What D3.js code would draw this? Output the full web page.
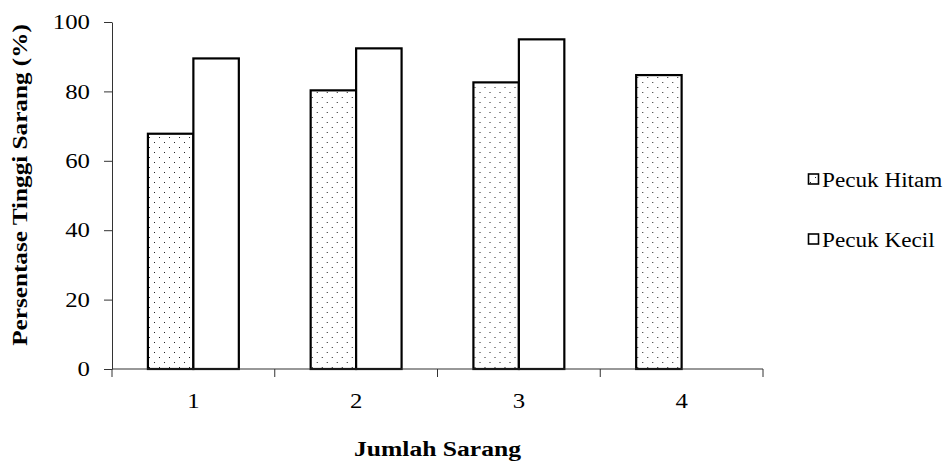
<!DOCTYPE html>
<html>
<head>
<meta charset="utf-8">
<script src="https://cdn.jsdelivr.net/npm/d3@7"></script>
<style>
  html, body { margin: 0; padding: 0; background: #fff; }
  svg { display: block; }
</style>
</head>
<body>
<svg id="chart" width="946" height="462"></svg>
<script>
// Nest-height percentages per number of nests, for two cormorant species
const categories = ["1", "2", "3", "4"];
const seriesNames = ["Pecuk Hitam", "Pecuk Kecil"];
const pecukHitam = [67.8, 80.3, 82.6, 84.7];
const pecukKecil = [89.5, 92.4, 95.0, null];
const yTicks = [0, 20, 40, 60, 80, 100];

const SERIF = "Liberation Serif, DejaVu Serif, serif";
const svg = d3.select("#chart");
const margin = { left: 112, right: 183, top: 22, bottom: 93 };
const W = 946, H = 462;

// Text is set a little wide along its baseline
function wideText(parent, x, y, str, opts) {
  const o = Object.assign({ size: 20, weight: 400, anchor: "start", sx: 1.2, rotate: 0, dy: null }, opts);
  const t = parent.append("text")
    .attr("transform", `translate(${x},${y}) rotate(${o.rotate}) scale(${o.sx},1)`)
    .attr("text-anchor", o.anchor)
    .style("font-family", SERIF)
    .style("font-size", o.size + "px")
    .style("font-weight", o.weight)
    .attr("fill", "#000")
    .text(str);
  if (o.dy) t.attr("dy", o.dy);
  return t;
}

// Dotted fill used by the first series
const defs = svg.append("defs");
const pat = defs.append("pattern")
  .attr("id", "dots").attr("patternUnits", "userSpaceOnUse")
  .attr("width", 10).attr("height", 10);
pat.append("rect").attr("width", 10).attr("height", 10).attr("fill", "#fff");
pat.append("rect").attr("x", 2).attr("y", 2).attr("width", 1).attr("height", 1).attr("fill", "#222");
pat.append("rect").attr("x", 7).attr("y", 7).attr("width", 1).attr("height", 1).attr("fill", "#222");

const x = d3.scaleBand().domain(categories)
  .range([margin.left, W - margin.right]).paddingInner(0).paddingOuter(0);
const x1 = d3.scaleBand().domain(seriesNames)
  .range([0, x.bandwidth()]).paddingInner(0).paddingOuter(0.79);
const y = d3.scaleLinear().domain([0, 100]).range([H - margin.bottom, margin.top]);

const fills = { "Pecuk Hitam": "url(#dots)", "Pecuk Kecil": "#fff" };
const data = categories.map((c, i) => ({
  cat: c,
  vals: [
    { s: seriesNames[0], v: pecukHitam[i] },
    { s: seriesNames[1], v: pecukKecil[i] }
  ]
}));

// Bars
const g = svg.append("g");
g.selectAll("g.cat").data(data).join("g")
  .attr("class", "cat")
  .attr("transform", d => `translate(${x(d.cat)},0)`)
  .selectAll("rect").data(d => d.vals.filter(v => v.v != null)).join("rect")
  .attr("x", d => x1(d.s))
  .attr("width", x1.bandwidth())
  .attr("y", d => y(d.v))
  .attr("height", d => y(0) - y(d.v))
  .attr("fill", d => fills[d.s])
  .attr("stroke", "#000")
  .attr("stroke-width", 2.2);

// Y axis (ticks and line from d3.axisLeft, labels set wide)
const yAxis = d3.axisLeft(y).tickValues(yTicks).tickSize(8).tickSizeOuter(0).tickFormat("");
const ya = svg.append("g").attr("transform", `translate(${margin.left},0)`).call(yAxis);
ya.select(".domain").attr("stroke", "#333");
ya.selectAll(".tick line").attr("stroke", "#333");
yTicks.forEach(v => wideText(svg, margin.left - 22, y(v), String(v),
  { size: 21, anchor: "end", sx: 1.18, dy: "0.34em" }));
// short extension of the y axis below the baseline
svg.append("line").attr("x1", margin.left).attr("x2", margin.left)
  .attr("y1", y(0)).attr("y2", y(0) + 8).attr("stroke", "#333");

// X axis: baseline with ticks on band boundaries, labels centred under each bar pair
svg.append("line").attr("x1", margin.left).attr("x2", W - margin.right)
  .attr("y1", y(0)).attr("y2", y(0)).attr("stroke", "#333").attr("stroke-width", 1.2);
const bounds = categories.map(c => x(c)).concat([x(categories[categories.length - 1]) + x.bandwidth()]);
svg.selectAll("line.xb").data(bounds.slice(1)).join("line")
  .attr("class", "xb")
  .attr("x1", d => d).attr("x2", d => d)
  .attr("y1", y(0)).attr("y2", y(0) + 8).attr("stroke", "#333");
categories.forEach(c => wideText(svg, x(c) + x1("Pecuk Hitam") + x1.bandwidth(), 408, c,
  { size: 21, anchor: "middle", sx: 1.18 }));

// Axis titles
wideText(svg, (margin.left + W - margin.right) / 2, 456, "Jumlah Sarang",
  { size: 20, weight: 700, anchor: "middle", sx: 1.28 });
wideText(svg, 27, 185, "Persentase Tinggi Sarang (%)",
  { size: 20, weight: 700, anchor: "middle", sx: 1.26, rotate: -90 });

// Legend
const legend = svg.append("g").attr("transform", "translate(808,0)");
const legY = [179, 239];
seriesNames.forEach((s, i) => {
  legend.append("rect").attr("x", 0.5).attr("y", legY[i] - 5).attr("width", 10).attr("height", 10)
    .attr("fill", fills[s]).attr("stroke", "#000").attr("stroke-width", 1.6);
  wideText(legend, 14, legY[i] + 8, s, { size: 20, sx: 1.16 });
});
</script>
</body>
</html>
